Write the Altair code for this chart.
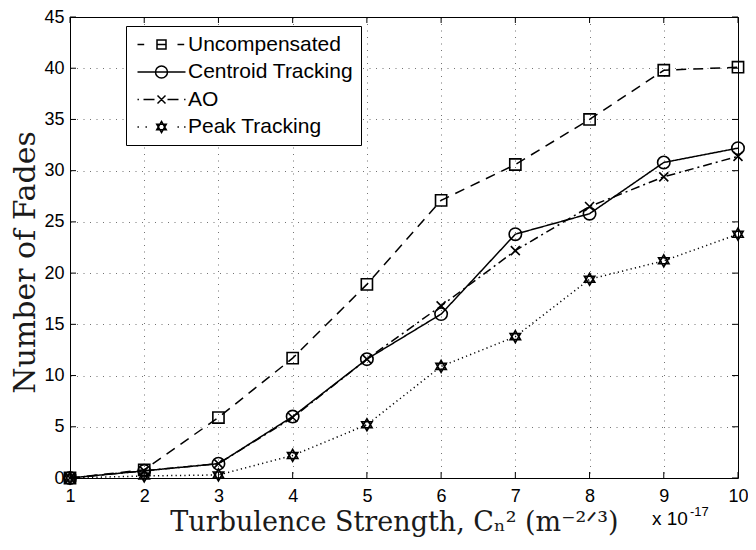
import altair as alt
import pandas as pd

# ---------------- data ----------------
x_vals = [1, 2, 3, 4, 5, 6, 7, 8, 9, 10]
series_names = ["Uncompensated", "Centroid Tracking", "AO", "Peak Tracking"]
uncompensated = [0.0, 0.8, 5.9, 11.7, 18.9, 27.1, 30.6, 35.0, 39.8, 40.1]
centroid = [0.0, 0.7, 1.4, 6.0, 11.6, 16.0, 23.8, 25.8, 30.8, 32.2]
ao = [0.0, 0.7, 1.4, 5.9, 11.6, 16.8, 22.2, 26.5, 29.4, 31.4]
peak = [0.0, 0.2, 0.3, 2.2, 5.2, 10.9, 13.8, 19.4, 21.2, 23.8]

x_ticks = [1, 2, 3, 4, 5, 6, 7, 8, 9, 10]
y_ticks = [0, 5, 10, 15, 20, 25, 30, 35, 40, 45]

x_title = "Turbulence Strength, Cₙ² (m⁻²ᐟ³)"
y_title = "Number of Fades"
exponent_base = ["x 10"]
exponent_power = ["-17"]

# ---------------- tables ----------------
rows = []
for name, vals in zip(series_names, [uncompensated, centroid, ao, peak]):
    for xv, yv in zip(x_vals, vals):
        rows.append({"x": xv, "y": yv, "series": name})
df = pd.DataFrame(rows)
xt = pd.DataFrame({"x": x_ticks})
yt = pd.DataFrame({"y": y_ticks})

W, H = 668, 461


# ---------------- symbol path helpers (style only) ----------------
def f(v):
    return f"{v:.3f}"


def seg(a, b, s):
    return f"M{f(a/s)},0L{f(b/s)},0"


def square(cx, h, s):
    return (f"M{f((cx-h)/s)},{f(-h/s)}L{f((cx+h)/s)},{f(-h/s)}"
            f"L{f((cx+h)/s)},{f(h/s)}L{f((cx-h)/s)},{f(h/s)}Z")


def circle(cx, r, s):
    rr = r / s
    return (f"M{f((cx+r)/s)},0A{f(rr)},{f(rr)},0,1,1,{f((cx-r)/s)},0"
            f"A{f(rr)},{f(rr)},0,1,1,{f((cx+r)/s)},0Z")


def xmark(cx, h, s):
    return (f"M{f((cx-h)/s)},{f(-h/s)}L{f((cx+h)/s)},{f(h/s)}"
            f"M{f((cx-h)/s)},{f(h/s)}L{f((cx+h)/s)},{f(-h/s)}")


def hexagram(cx, r, s):
    a, b = 0.866 * r, 0.5 * r
    return (f"M{f(cx/s)},{f(-r/s)}L{f((cx+a)/s)},{f(b/s)}L{f((cx-a)/s)},{f(b/s)}Z"
            f"M{f(cx/s)},{f(r/s)}L{f((cx+a)/s)},{f(-b/s)}L{f((cx-a)/s)},{f(-b/s)}Z")


# data markers: size 144 -> 6 px per unit
S = 6
marker_paths = [square(0, 5.6, S), circle(0, 6.2, S), xmark(0, 4.5, S), hexagram(0, 6.0, S)]

# legend symbols: symbolSize 196 -> 7 px per unit, marker 17 px right of symbol centre
L = 7
M = 17
legend_paths = [
    seg(-7, -0.3, L) + seg(33, 39.7, L) + seg(M - 4.5, M + 4.5, L) + square(M, 4.5, L),
    seg(-7, 41, L) + circle(M, 6, L),
    seg(-7, -5.6, L) + seg(-1, 10, L) + seg(23, 34, L) + seg(39.6, 41, L) + xmark(M, 4, L),
    seg(-7, -5.6, L) + seg(1, 2.4, L) + seg(33, 34.4, L) + seg(39.6, 41, L) + hexagram(M, 5.5, L),
]

dashes = [[10, 7], [1, 0], [9, 4, 2, 4], [1.2, 3.2]]

# ---------------- encodings ----------------
x_enc = alt.X(
    "x:Q",
    scale=alt.Scale(domain=[1, 10], nice=False, zero=False),
    axis=alt.Axis(
        values=x_ticks, format="d", title=x_title,
        titleFont="DejaVu Serif", titleFontSize=27, titleFontWeight="normal",
        titleColor="#1a1a1a", titleX=324, titleY=52, titleAlign="center",
        titleBaseline="alphabetic",
        labelFont="Liberation Sans", labelFontSize=18, labelColor="black",
        labelPadding=9, labelFlush=False, labelOverlap=False,
        ticks=False, domain=False, grid=True,
    ),
)
y_enc = alt.Y(
    "y:Q",
    scale=alt.Scale(domain=[0, 45], nice=False, zero=True),
    axis=alt.Axis(
        values=y_ticks, title=y_title,
        titleFont="DejaVu Serif", titleFontSize=30, titleFontWeight="normal",
        titleColor="#1a1a1a", titleX=-36, titleY=245, titleAlign="center",
        titleBaseline="alphabetic", titleAngle=270,
        labelFont="Liberation Sans", labelFontSize=18, labelColor="black",
        labelPadding=6, labelOverlap=False, labelFlush=False,
        ticks=False, domain=False, grid=True,
    ),
)

lines = alt.Chart(df).mark_line(color="black", strokeWidth=1.5).encode(
    x=x_enc, y=y_enc,
    strokeDash=alt.StrokeDash("series:N",
                              scale=alt.Scale(domain=series_names, range=dashes),
                              legend=None),
)

points = alt.Chart(df).mark_point(
    filled=False, size=144, strokeWidth=1.6, color="black", opacity=1
).encode(
    x=x_enc, y=y_enc,
    shape=alt.Shape("series:N",
                    scale=alt.Scale(domain=series_names, range=marker_paths),
                    legend=None),
)

legend_layer = alt.Chart(df).mark_point(
    filled=False, color="black", opacity=0
).encode(
    x=x_enc, y=y_enc,
    shape=alt.Shape(
        "series:N",
        scale=alt.Scale(domain=series_names, range=legend_paths),
        legend=alt.Legend(
            title=None, orient="none", legendX=56, legendY=9,
            fillColor="white", strokeColor="black", padding=8, cornerRadius=0,
            symbolSize=196, symbolStrokeWidth=1.5, symbolStrokeColor="black",
            symbolFillColor="transparent", symbolOpacity=1,
            labelFont="Liberation Sans", labelFontSize=21, labelColor="black",
            labelOffset=33, labelLimit=400, rowPadding=5.5,
            labelExpr="datum.label + '  '",
        ),
    ),
)

tick_len = 6
bottom_ticks = alt.Chart(xt).mark_rule(color="black", strokeWidth=1).encode(
    x=x_enc, y=alt.value(H), y2=alt.value(H - tick_len))
top_ticks = alt.Chart(xt).mark_rule(color="black", strokeWidth=1).encode(
    x=x_enc, y=alt.value(0), y2=alt.value(tick_len))
left_ticks = alt.Chart(yt).mark_rule(color="black", strokeWidth=1).encode(
    y=y_enc, x=alt.value(0), x2=alt.value(tick_len))
right_ticks = alt.Chart(yt).mark_rule(color="black", strokeWidth=1).encode(
    y=y_enc, x=alt.value(W), x2=alt.value(W - tick_len))

exp_base = alt.Chart(pd.DataFrame({"t": exponent_base})).mark_text(
    align="left", baseline="alphabetic", font="Liberation Sans", fontSize=19, color="black"
).encode(text="t:N", x=alt.value(582), y=alt.value(508))
exp_pow = alt.Chart(pd.DataFrame({"t": exponent_power})).mark_text(
    align="left", baseline="alphabetic", font="Liberation Sans", fontSize=13, color="black"
).encode(text="t:N", x=alt.value(620), y=alt.value(499))

chart = alt.layer(
    lines, points, legend_layer,
    bottom_ticks, top_ticks, left_ticks, right_ticks,
    exp_base, exp_pow,
).resolve_scale(
    shape="independent"
).properties(
    width=W, height=H,
    autosize=alt.AutoSizeParams(type="none"),
    padding={"left": 62, "top": 9, "right": 10, "bottom": 60},
).configure_view(
    stroke="black", strokeWidth=1
).configure_axis(
    gridColor="black", gridDash=[1, 5.5], gridOpacity=0.55, gridWidth=1
)

chart.save("out.html", embed_options={"renderer": "svg", "actions": False})
